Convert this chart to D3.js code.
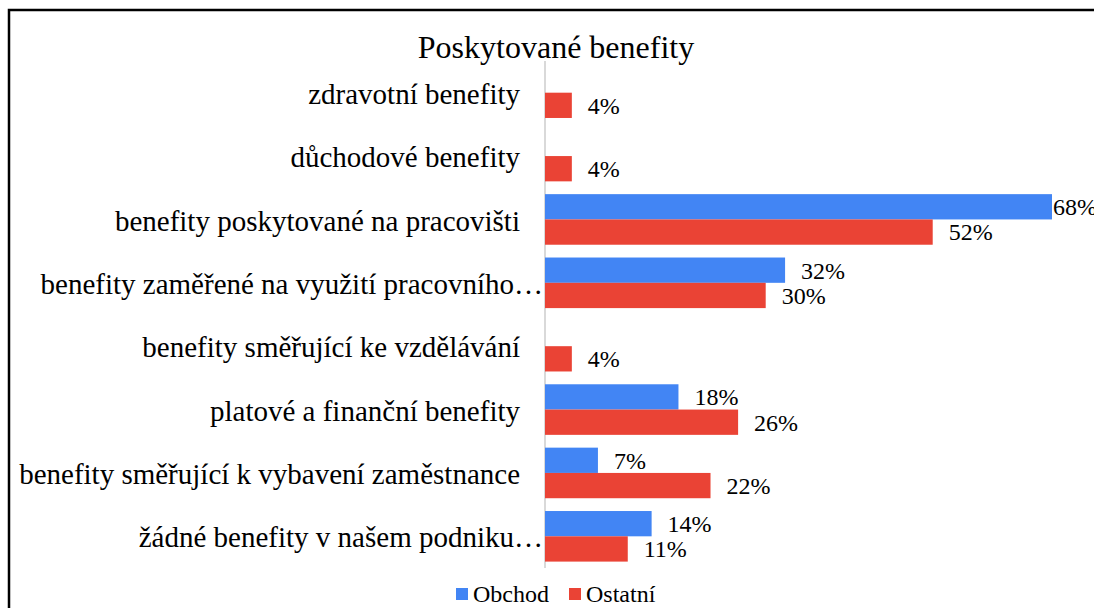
<!DOCTYPE html>
<html>
<head>
<meta charset="utf-8">
<script src="https://cdn.jsdelivr.net/npm/d3@7"></script>
<style>
  body { margin: 0; background: #fff; }
</style>
</head>
<body>
<div class="content-container"></div>
<script>
// categories (top to bottom) and the two series, in percent
const categories = [
  "zdravotní benefity",
  "důchodové benefity",
  "benefity poskytované na pracovišti",
  "benefity zaměřené na využití pracovního…",
  "benefity směřující ke vzdělávání",
  "platové a finanční benefity",
  "benefity směřující k vybavení zaměstnance",
  "žádné benefity v našem podniku…"
];
const seriesNames = ["Obchod", "Ostatní"];
const obchod = [0, 0, 68, 32.2, 0, 17.9, 7.1, 14.3];
const ostatni = [3.6, 3.6, 52, 29.6, 3.6, 25.9, 22.2, 11.1];
const colors = ["#4285F4", "#EA4335"];

const width = 1094;
const height = 608;

const svg = d3.select(".content-container")
  .append("svg")
  .attr("width", width)
  .attr("height", height)
  .style("font-family", "Liberation Serif");

// frame (left + top edges visible, the rest runs off the picture)
svg.append("rect")
  .attr("x", 9)
  .attr("y", 10)
  .attr("width", width + 20)
  .attr("height", height + 20)
  .attr("fill", "none")
  .attr("stroke", "#000")
  .attr("stroke-width", 2.5);

// scales
const xScale = d3.scaleLinear()
  .domain([0, 68])
  .range([545, 1052]);

const yScale = d3.scaleBand()
  .domain(categories)
  .range([61, 568])
  .padding(0);

const ySub = d3.scaleBand()
  .domain(seriesNames)
  .range([0, yScale.bandwidth()])
  .paddingInner(0)
  .paddingOuter(0.253);

const rows = categories.map((c, i) => ({ cat: c, values: [obchod[i], ostatni[i]] }));

// vertical axis line
svg.append("line")
  .attr("x1", xScale(0)).attr("x2", xScale(0))
  .attr("y1", yScale.range()[0]).attr("y2", yScale.range()[1])
  .attr("stroke", "#d9d9d9")
  .attr("stroke-width", 2);

// bars
const groups = svg.selectAll("g.row")
  .data(rows)
  .enter()
  .append("g")
  .attr("class", "row")
  .attr("transform", d => "translate(0," + yScale(d.cat) + ")");

groups.selectAll("rect")
  .data(d => d.values.map((v, j) => ({ v: v, s: seriesNames[j], j: j })).filter(e => e.v > 0))
  .enter()
  .append("rect")
  .attr("x", xScale(0))
  .attr("y", e => ySub(e.s))
  .attr("width", e => xScale(e.v) - xScale(0))
  .attr("height", ySub.bandwidth())
  .attr("fill", e => colors[e.j]);

// value labels (the longest one sits right at the bar end, like the original)
groups.selectAll("text.val")
  .data(d => d.values.map((v, j) => ({ v: v, s: seriesNames[j] })).filter(e => e.v > 0))
  .enter()
  .append("text")
  .attr("class", "val")
  .attr("x", e => Math.min(xScale(e.v) + 16, xScale.range()[1] + 1))
  .attr("y", e => ySub(e.s) + ySub.bandwidth() / 2)
  .attr("dy", "0.35em")
  .attr("fill", "#000")
  .style("font-size", "24px")
  .text(e => Math.round(e.v) + "%");

// category labels
svg.selectAll("text.cat")
  .data(categories)
  .enter()
  .append("text")
  .attr("class", "cat")
  .attr("x", d => d.endsWith("…") ? 543 : 520)
  .attr("y", d => yScale(d) + yScale.bandwidth() / 2 + 1)
  .attr("dy", "0.35em")
  .attr("text-anchor", "end")
  .attr("fill", "#000")
  .style("font-size", "29px")
  .text(d => d);

// title
svg.append("text")
  .attr("x", 556)
  .attr("y", 58)
  .attr("text-anchor", "middle")
  .attr("fill", "#000")
  .style("font-size", "32px")
  .text("Poskytované benefity");

// legend
const legend = svg.append("g").attr("transform", "translate(456,588)");
const legendX = [0, 113];
seriesNames.forEach((s, i) => {
  legend.append("rect")
    .attr("x", legendX[i])
    .attr("y", 0)
    .attr("width", 12)
    .attr("height", 12)
    .attr("fill", colors[i]);
  legend.append("text")
    .attr("x", legendX[i] + 17)
    .attr("y", 6)
    .attr("dy", "0.35em")
    .attr("fill", "#000")
    .style("font-size", "24px")
    .text(s);
});
</script>
</body>
</html>
